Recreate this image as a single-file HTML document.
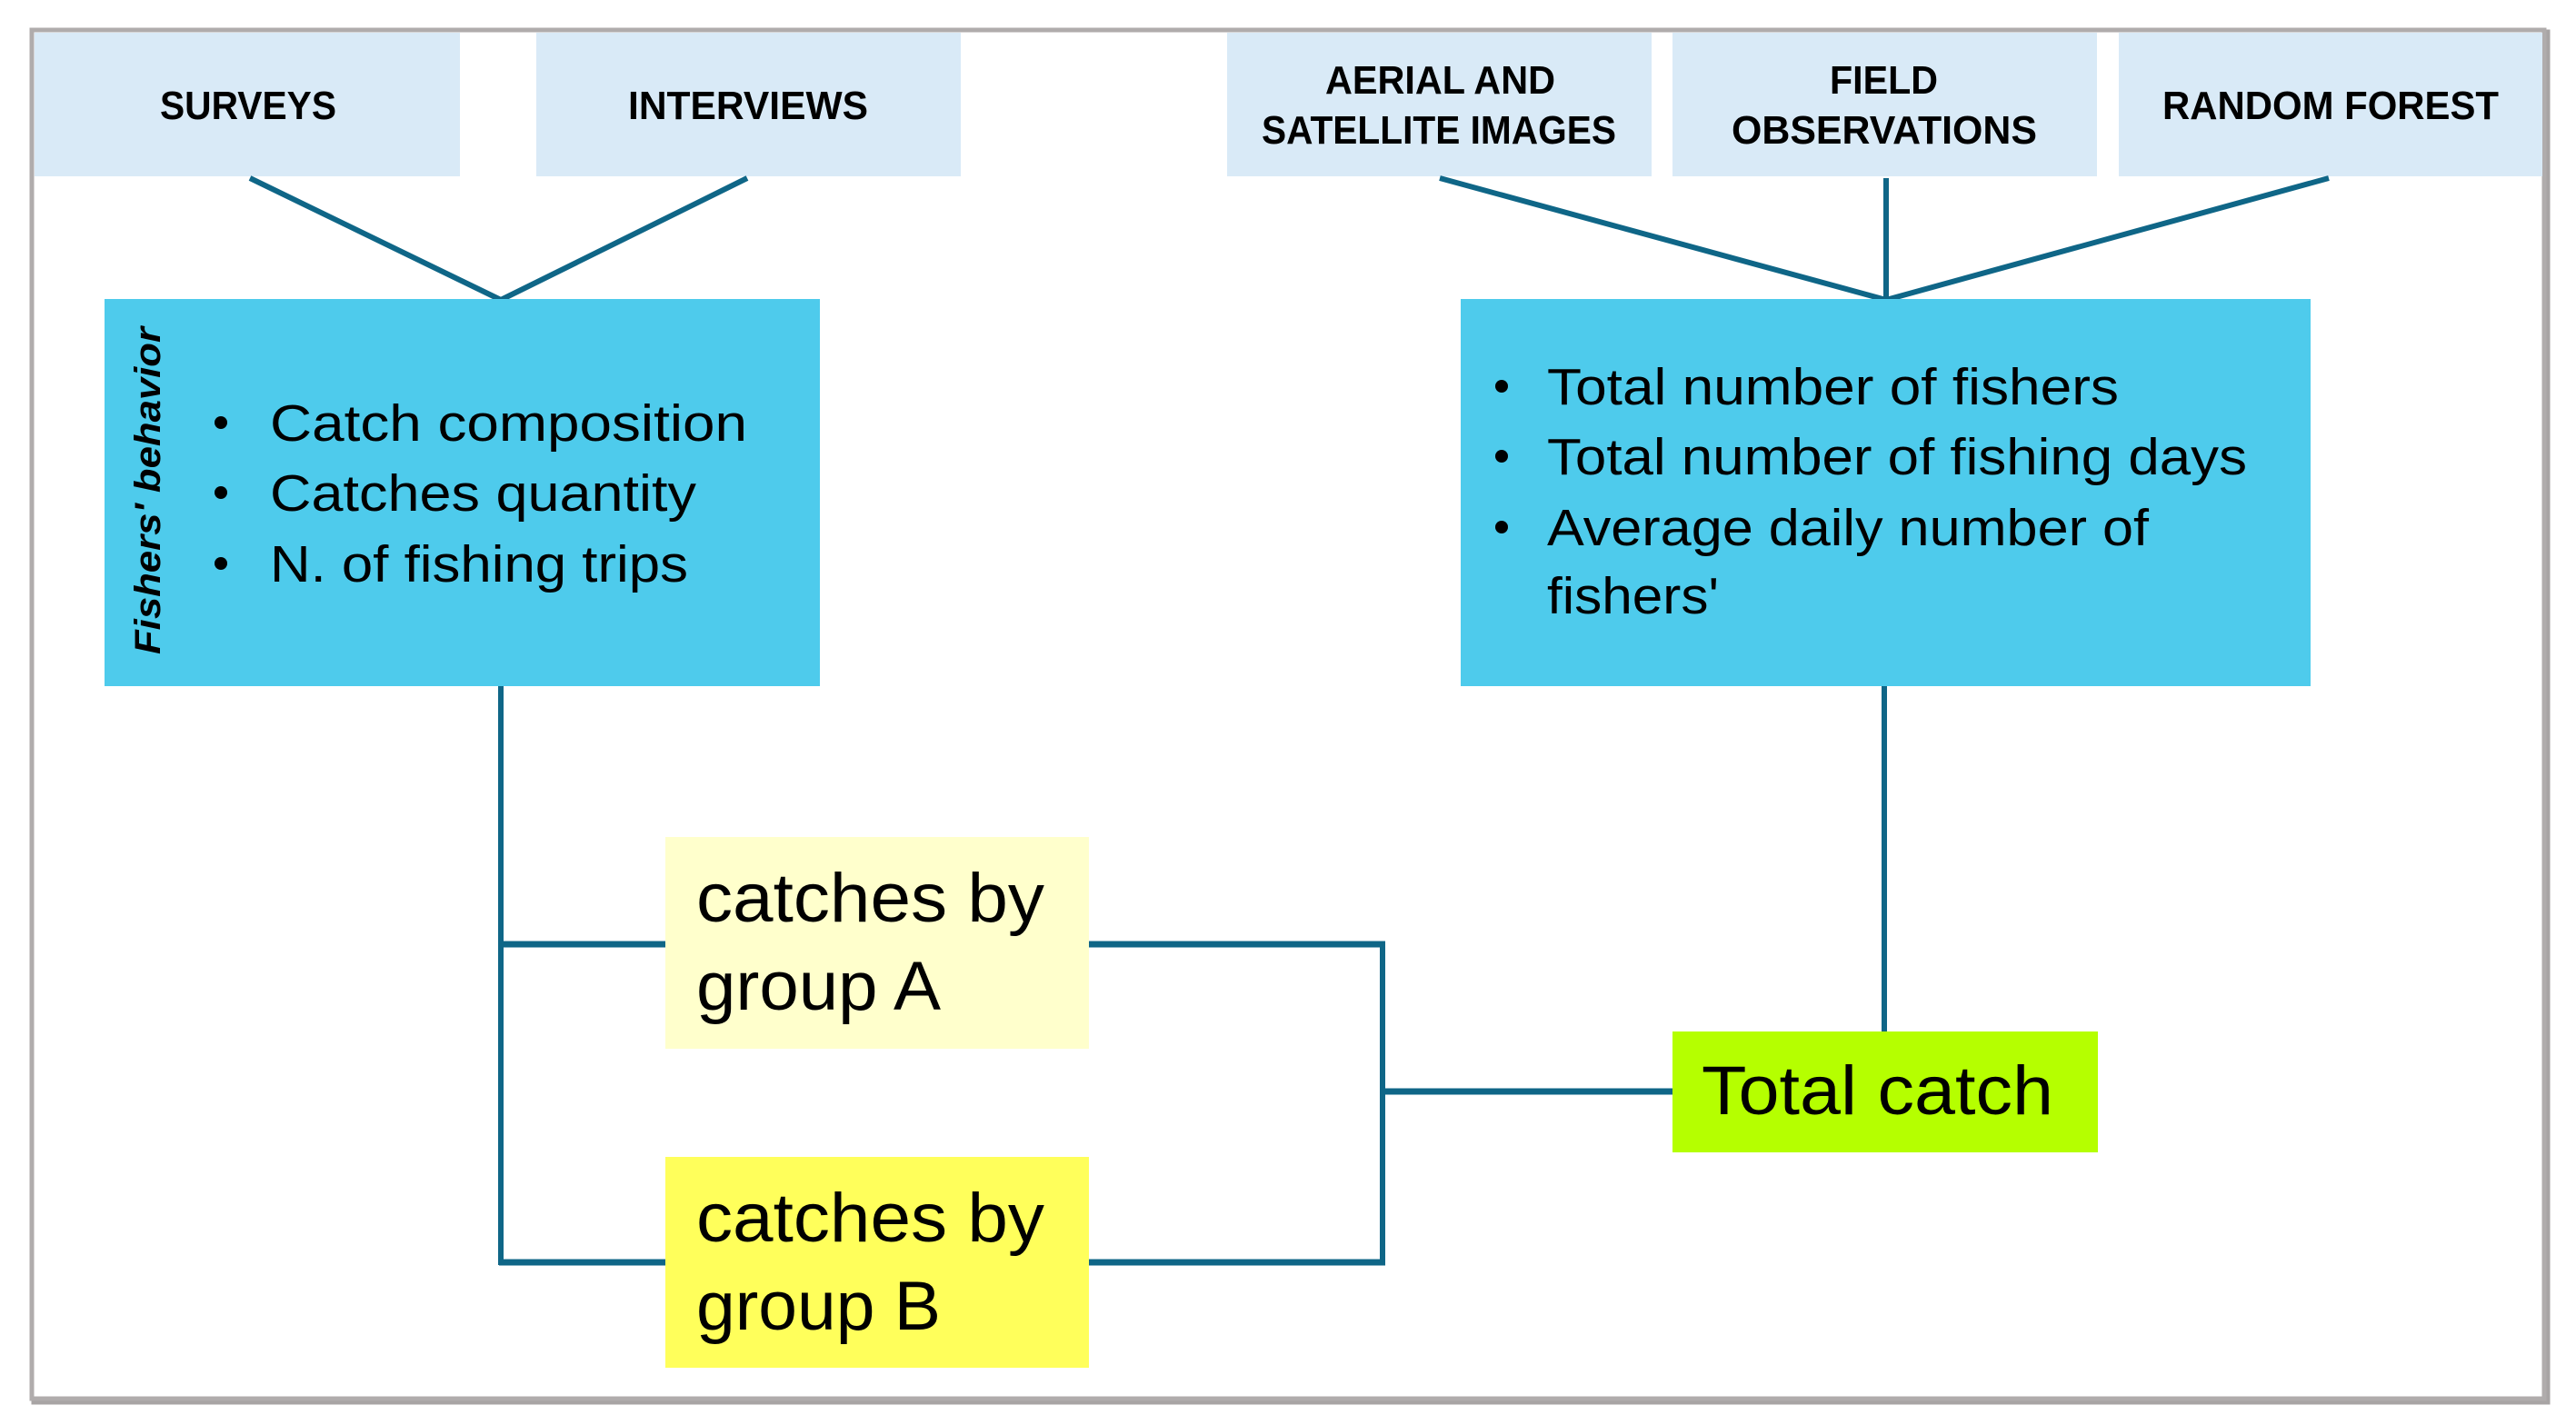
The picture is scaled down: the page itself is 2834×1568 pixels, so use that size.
<!DOCTYPE html>
<html><head><meta charset="utf-8"><style>
html,body{margin:0;padding:0;background:#fff;}
svg{display:block;}
text{font-family:"Liberation Sans",sans-serif;fill:#000;}
.h{font-weight:bold;font-size:44px;}
.b{font-size:57px;}
.c{font-size:76px;}
</style></head><body>
<svg width="2834" height="1568" viewBox="0 0 2834 1568" xmlns="http://www.w3.org/2000/svg">
<rect x="0" y="0" width="2834" height="1568" fill="#fff"/>
<rect x="37" y="35" width="2766" height="1508" fill="none" stroke="#a8a4a4" stroke-width="5"/>
<rect x="35" y="33" width="2764" height="1506" fill="#fff" stroke="#b0acac" stroke-width="5"/>
<!-- header boxes -->
<g fill="#d9eaf7">
<rect x="38" y="36" width="468" height="158"/>
<rect x="590" y="36" width="467" height="158"/>
<rect x="1350" y="36" width="467" height="158"/>
<rect x="1840" y="36" width="467" height="158"/>
<rect x="2331" y="36" width="466" height="158"/>
</g>
<text class="h" x="176" y="131" textLength="194" lengthAdjust="spacingAndGlyphs">SURVEYS</text>
<text class="h" x="691" y="131" textLength="264" lengthAdjust="spacingAndGlyphs">INTERVIEWS</text>
<text class="h" x="1458" y="103" textLength="253" lengthAdjust="spacingAndGlyphs">AERIAL AND</text>
<text class="h" x="1388" y="158" textLength="390" lengthAdjust="spacingAndGlyphs">SATELLITE IMAGES</text>
<text class="h" x="2013" y="103" textLength="119" lengthAdjust="spacingAndGlyphs">FIELD</text>
<text class="h" x="1905" y="158" textLength="336" lengthAdjust="spacingAndGlyphs">OBSERVATIONS</text>
<text class="h" x="2379" y="131" textLength="370" lengthAdjust="spacingAndGlyphs">RANDOM FOREST</text>
<!-- connectors -->
<g stroke="#0f6687" stroke-width="6" fill="none">
<polyline points="275,196 551,330 822,196"/>
<polyline points="1584,196 2075,330 2562,196"/>
<line x1="2075" y1="196" x2="2075" y2="330"/>
<line x1="551" y1="755" x2="551" y2="1392"/>
<line x1="2073" y1="755" x2="2073" y2="1137"/>
<line x1="1521" y1="1036" x2="1521" y2="1392"/>
</g>
<g stroke="#0f6687" stroke-width="7" fill="none">
<line x1="549" y1="1039" x2="734" y2="1039"/>
<line x1="1196" y1="1039" x2="1524" y2="1039"/>
<line x1="549" y1="1389" x2="734" y2="1389"/>
<line x1="1196" y1="1389" x2="1524" y2="1389"/>
<line x1="1521" y1="1201" x2="1842" y2="1201"/>
</g>
<!-- big boxes -->
<rect x="115" y="329" width="787" height="426" fill="#4ecbec"/>
<rect x="1607" y="329" width="935" height="426" fill="#4ecbec"/>
<text x="176" y="720" transform="rotate(-90 176 720)" style="font-weight:bold;font-style:italic;font-size:40px" textLength="360" lengthAdjust="spacingAndGlyphs">Fishers' behavior</text>
<g class="b">
<circle cx="243" cy="465" r="7"/><circle cx="243" cy="542" r="7"/><circle cx="243" cy="620" r="7"/>
<text class="b" x="297" y="485" textLength="525" lengthAdjust="spacingAndGlyphs">Catch composition</text>
<text class="b" x="297" y="562" textLength="469" lengthAdjust="spacingAndGlyphs">Catches quantity</text>
<text class="b" x="297" y="640" textLength="460" lengthAdjust="spacingAndGlyphs">N. of fishing trips</text>
<circle cx="1652" cy="425" r="7"/><circle cx="1652" cy="502" r="7"/><circle cx="1652" cy="580" r="7"/>
<text class="b" x="1702" y="445" textLength="629" lengthAdjust="spacingAndGlyphs">Total number of fishers</text>
<text class="b" x="1702" y="522" textLength="770" lengthAdjust="spacingAndGlyphs">Total number of fishing days</text>
<text class="b" x="1702" y="600" textLength="662" lengthAdjust="spacingAndGlyphs">Average daily number of</text>
<text class="b" x="1702" y="675" textLength="189" lengthAdjust="spacingAndGlyphs">fishers'</text>
</g>
<!-- bottom boxes -->
<rect x="732" y="921" width="466" height="233" fill="#ffffcc"/>
<rect x="732" y="1273" width="466" height="232" fill="#ffff5b"/>
<rect x="1840" y="1135" width="468" height="133" fill="#b5ff00"/>
<text class="c" x="766" y="1014" textLength="383" lengthAdjust="spacingAndGlyphs">catches by</text>
<text class="c" x="766" y="1111" textLength="269" lengthAdjust="spacingAndGlyphs">group A</text>
<text class="c" x="766" y="1366" textLength="383" lengthAdjust="spacingAndGlyphs">catches by</text>
<text class="c" x="766" y="1463" textLength="269" lengthAdjust="spacingAndGlyphs">group B</text>
<text class="c" x="1872" y="1226" textLength="387" lengthAdjust="spacingAndGlyphs">Total catch</text>
</svg>
</body></html>
